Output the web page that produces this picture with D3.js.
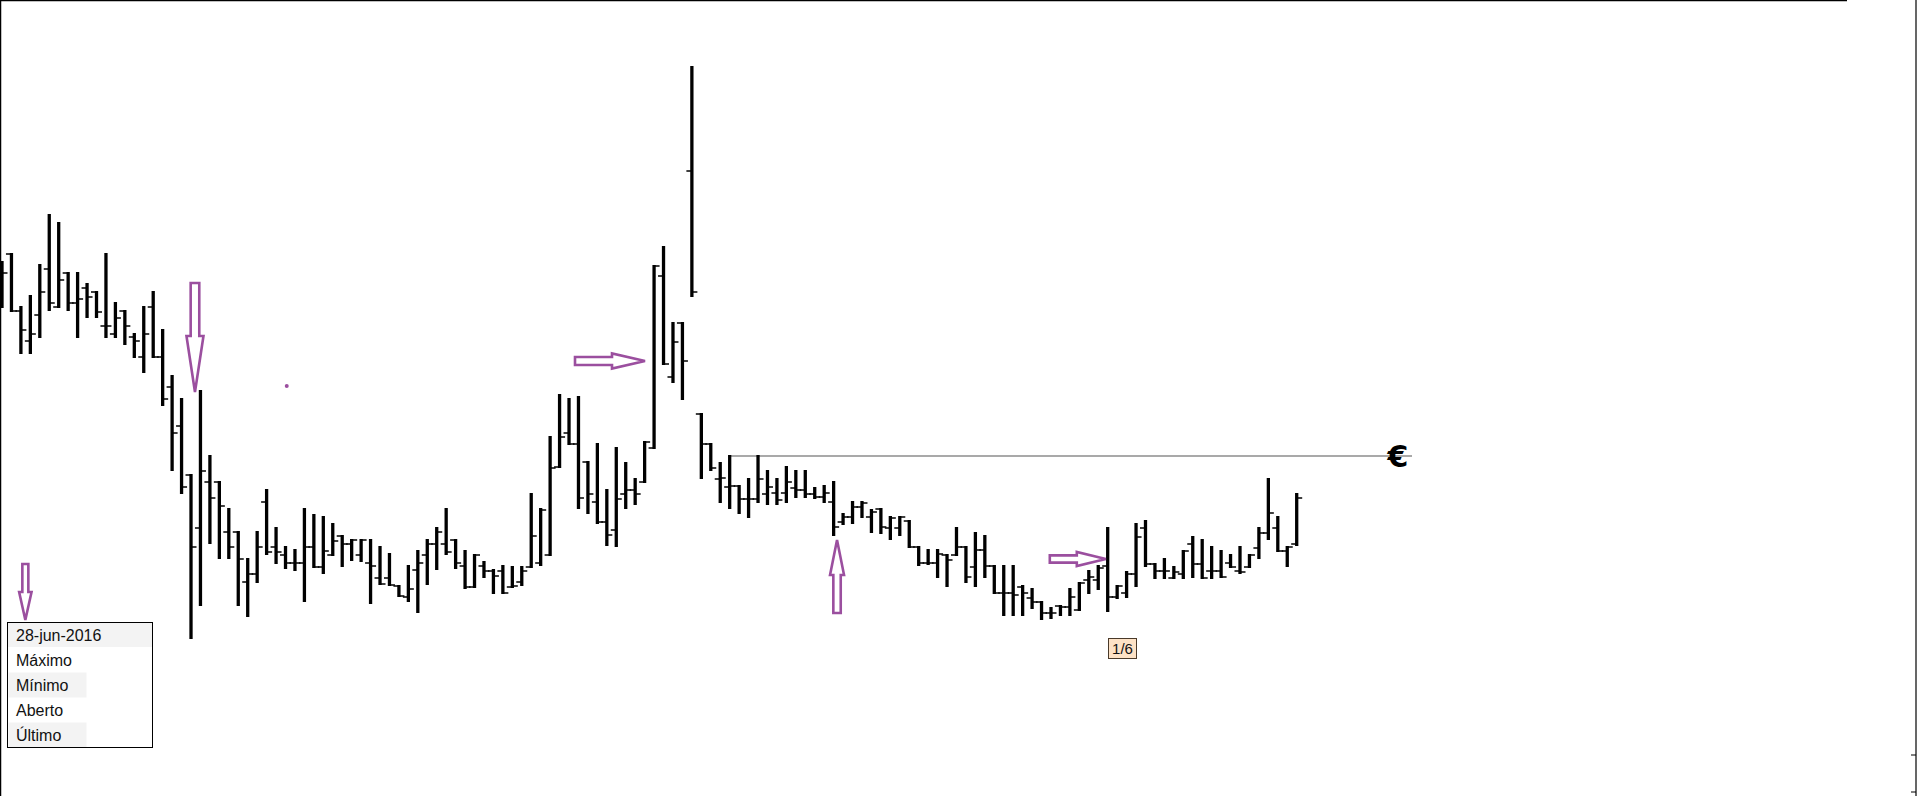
<!DOCTYPE html>
<html>
<head>
<meta charset="utf-8">
<script src="https://cdn.jsdelivr.net/npm/d3@7"></script>
<style>
  html, body { margin: 0; padding: 0; background: #fff; }
  svg { display: block; }
</style>
</head>
<body>
<div class="chart"></div>
<script>
// daily bars (prices in EUR)
var opens = [5.10,5.46,4.89,4.59,4.85,5.31,4.93,5.27,4.97,5.12,5.08,4.74,4.66,4.89,4.63,4.43,4.93,4.43,4.13,3.74,
  3.25,2.72,3.18,3.18,2.68,2.68,2.18,2.26,2.98,2.53,2.45,2.37,2.37,2.53,2.33,2.45,2.64,2.56,2.45,2.37,
  2.22,2.22,2.14,2.03,2.30,2.45,2.56,2.56,2.60,2.34,2.13,2.34,2.29,2.29,2.13,2.18,2.33,2.37,2.45,3.33,
  3.67,3.56,3.38,2.98,2.78,2.70,3.06,3.10,3.18,3.52,5.24,4.23,4.77,6.29,3.86,3.56,3.21,3.13,3.14,3.01,
  3.01,3.06,3.07,3.07,3.12,3.10,3.06,3.03,2.98,2.78,2.83,2.93,2.83,2.91,2.72,2.72,2.79,2.53,2.37,2.37,
  2.45,2.45,2.53,2.33,2.50,2.34,2.07,2.07,2.13,2.02,1.98,1.87,1.94,1.93,1.90,2.20,2.20,2.34,2.03,2.07,
  2.26,2.72,2.36,2.29,2.22,2.26,2.56,2.36,2.29,2.29,2.37,2.29,2.33,2.52,2.67,2.72,2.49,2.56];
var highs = [5.38,5.46,4.93,5.04,5.35,5.85,5.77,5.27,5.27,5.16,5.08,5.46,4.97,4.89,4.66,4.93,5.08,4.70,4.24,4.01,
  3.25,4.09,3.44,3.18,2.91,2.68,2.41,2.68,3.10,2.72,2.53,2.50,2.91,2.85,2.83,2.76,2.64,2.60,2.60,2.60,
  2.53,2.46,2.14,2.34,2.49,2.60,2.72,2.91,2.60,2.49,2.45,2.38,2.30,2.34,2.33,2.33,3.06,2.91,3.63,4.05,
  4.01,4.03,3.38,3.56,3.10,3.52,3.37,3.21,3.58,5.34,5.53,4.77,4.77,7.33,3.86,3.56,3.37,3.44,3.14,3.21,
  3.44,3.29,3.21,3.33,3.29,3.29,3.12,3.14,3.18,2.86,2.98,2.98,2.90,2.91,2.83,2.83,2.79,2.53,2.50,2.50,
  2.45,2.72,2.53,2.67,2.64,2.34,2.34,2.34,2.14,2.11,1.98,1.92,1.94,2.11,2.17,2.29,2.34,2.72,2.14,2.28,
  2.76,2.79,2.36,2.41,2.33,2.49,2.63,2.60,2.53,2.49,2.45,2.53,2.45,2.72,3.21,2.83,2.53,3.06];
var lows = [4.93,4.89,4.47,4.47,4.63,4.90,4.93,4.90,4.63,4.83,4.83,4.63,4.63,4.56,4.43,4.28,4.43,3.95,3.30,3.07,
  1.62,1.95,2.57,2.42,2.42,1.95,1.84,2.18,2.46,2.37,2.32,2.30,1.99,2.33,2.27,2.45,2.34,2.40,2.39,1.97,
  2.16,2.15,2.04,1.99,1.88,2.16,2.31,2.46,2.32,2.12,2.13,2.23,2.07,2.07,2.13,2.15,2.33,2.35,2.45,3.33,
  3.56,2.92,2.87,2.77,2.55,2.54,2.92,2.96,3.18,3.52,4.36,4.18,4.01,5.04,3.22,3.30,2.98,2.92,2.87,2.83,
  2.98,2.96,2.96,2.98,3.03,3.03,3.02,2.98,2.65,2.76,2.77,2.83,2.68,2.67,2.61,2.65,2.53,2.35,2.36,2.23,
  2.14,2.45,2.18,2.14,2.23,2.07,1.85,1.85,1.85,1.92,1.81,1.82,1.85,1.85,1.90,2.07,2.11,1.89,2.02,2.03,
  2.14,2.34,2.22,2.22,2.22,2.22,2.23,2.22,2.22,2.23,2.33,2.27,2.33,2.42,2.61,2.49,2.34,2.55];
var closes = [5.27,4.89,4.70,4.66,5.08,4.97,5.20,4.97,5.01,5.03,4.88,4.74,4.82,4.74,4.59,4.66,4.43,4.01,3.67,3.13,
  2.53,3.29,3.02,2.94,2.53,2.41,2.26,2.53,2.48,2.48,2.37,2.37,2.53,2.33,2.49,2.59,2.56,2.60,2.60,2.34,
  2.16,2.15,2.04,2.11,2.37,2.56,2.68,2.48,2.37,2.13,2.45,2.29,2.24,2.07,2.14,2.29,2.64,2.90,3.32,3.63,
  3.56,3.02,3.06,2.78,2.65,3.01,3.10,3.06,3.58,5.34,4.36,4.58,4.39,5.08,3.56,3.32,3.22,3.14,3.01,3.01,
  3.21,3.13,3.00,3.18,3.10,3.06,3.03,3.07,2.73,2.83,2.93,2.97,2.88,2.73,2.82,2.83,2.53,2.37,2.37,2.46,
  2.40,2.53,2.23,2.50,2.34,2.07,2.07,2.05,2.07,1.98,1.87,1.87,1.93,2.03,2.17,2.23,2.32,2.03,2.14,2.26,
  2.63,2.36,2.29,2.29,2.28,2.49,2.36,2.22,2.29,2.23,2.33,2.28,2.45,2.67,2.87,2.49,2.53,3.02];

// data window tooltip
var infoDate = '28-jun-2016';
var infoLabels = ['Máximo', 'Mínimo', 'Aberto', 'Último'];

// reference price line (index range + price) and its label
var refLine = { from: 77, to: 149.2, price: 3.44 };
var pageLabel = '1/6';

// hand-drawn arrows: tip in bar index / price, direction
var arrows = [
  { dir: 'down',  i: 20.42, p: 4.08, len: 109, head: 56, hw: 17, sw: 8.6 },
  { dir: 'right', i: 68.04, p: 4.39, len: 70,  head: 33, hw: 15, sw: 8 },
  { dir: 'up',    i: 88.36, p: 2.60, len: 73,  head: 35, hw: 14, sw: 7.4 },
  { dir: 'right', i: 116.8, p: 2.41, len: 56,  head: 29, hw: 14, sw: 7.3 },
  { dir: 'down',  i: 2.47,  p: 1.80, len: 56,  head: 28, hw: 12.4, sw: 6 }
];
var dots = [{ i: 30.13, p: 4.14 }];

var W = 1918, H = 796;
var bars = opens.map(function (o, k) {
  return { i: k, o: o, h: highs[k], l: lows[k], c: closes[k] };
});

var svg = d3.select('.chart')
  .append('svg')
    .attr('width', W)
    .attr('height', H);

var x = d3.scaleLinear()
  .domain([0, bars.length - 1])
  .range([2, 1296.7]);

var y = d3.scaleLinear()
  .domain([0, 8])
  .range([800, 0]);

// frame
svg.append('line').attr('x1', 0).attr('x2', 1847).attr('y1', 0.5).attr('y2', 0.5)
  .attr('stroke', '#000').attr('stroke-width', 1.5);
svg.append('line').attr('x1', 0.5).attr('x2', 0.5).attr('y1', 0).attr('y2', H)
  .attr('stroke', '#000').attr('stroke-width', 1.5);
svg.append('line').attr('x1', 1916).attr('x2', 1916).attr('y1', 0).attr('y2', H)
  .attr('stroke', '#000').attr('stroke-width', 1.2);
[755, 792].forEach(function (ty) {
  svg.append('line').attr('x1', 1911).attr('x2', 1916).attr('y1', ty).attr('y2', ty)
    .attr('stroke', '#000').attr('stroke-width', 1);
});

// reference line
svg.append('line')
  .attr('x1', x(refLine.from))
  .attr('x2', x(refLine.to))
  .attr('y1', y(refLine.price))
  .attr('y2', y(refLine.price))
  .attr('stroke', '#8c8c8c')
  .attr('stroke-width', 1.3);

svg.append('text')
  .attr('x', x(refLine.to) - 14)
  .attr('y', y(refLine.price) + 11)
  .style('text-anchor', 'middle')
  .attr('font-family', 'DejaVu Sans, sans-serif')
  .attr('font-weight', 'bold')
  .attr('font-size', '30px')
  .attr('fill', '#000')
  .text('€');

// OHLC bars
var g = svg.append('g').attr('class', 'bars');
var bar = g.selectAll('g').data(bars).enter().append('g');

bar.append('line')
  .attr('x1', function (d) { return x(d.i); })
  .attr('x2', function (d) { return x(d.i); })
  .attr('y1', function (d) { return y(d.h) - 1; })
  .attr('y2', function (d) { return y(d.l) + 1; })
  .attr('stroke', '#000')
  .attr('stroke-width', 3.3);

bar.append('line')
  .attr('x1', function (d) { return x(d.i) - 5.5; })
  .attr('x2', function (d) { return x(d.i); })
  .attr('y1', function (d) { return y(d.o); })
  .attr('y2', function (d) { return y(d.o); })
  .attr('stroke', '#000')
  .attr('stroke-width', 1.5);

bar.append('line')
  .attr('x1', function (d) { return x(d.i); })
  .attr('x2', function (d) { return x(d.i) + 5.5; })
  .attr('y1', function (d) { return y(d.c); })
  .attr('y2', function (d) { return y(d.c); })
  .attr('stroke', '#000')
  .attr('stroke-width', 1.5);

// arrows
function arrowPoints(a) {
  var tx = x(a.i), ty = y(a.p);
  var s = a.sw / 2, h = a.hw / 2, L = a.len, hd = a.head;
  // build pointing right (tip at origin), then rotate
  var pts = [[0, 0], [-hd, -h], [-hd, -s], [-L, -s], [-L, s], [-hd, s], [-hd, h]];
  var ang = { right: 0, down: Math.PI / 2, up: -Math.PI / 2, left: Math.PI }[a.dir];
  return pts.map(function (p) {
    var px = p[0] * Math.cos(ang) - p[1] * Math.sin(ang);
    var py = p[0] * Math.sin(ang) + p[1] * Math.cos(ang);
    return [tx + px, ty + py].join(',');
  }).join(' ');
}

svg.selectAll('polygon.arrow').data(arrows).enter().append('polygon')
  .attr('class', 'arrow')
  .attr('points', arrowPoints)
  .attr('fill', '#fff')
  .attr('stroke', '#9b4f9f')
  .attr('stroke-width', 2.6)
  .attr('stroke-linejoin', 'miter');

svg.selectAll('circle.dot').data(dots).enter().append('circle')
  .attr('class', 'dot')
  .attr('cx', function (d) { return x(d.i); })
  .attr('cy', function (d) { return y(d.p); })
  .attr('r', 2)
  .attr('fill', '#9b4f9f');

// page label
var pg = svg.append('g').attr('transform', 'translate(1108.5, 638.5)');
pg.append('rect').attr('width', 28).attr('height', 20)
  .attr('fill', '#fde2c6').attr('stroke', '#4a3a2a').attr('stroke-width', 1);
pg.append('text').attr('x', 14).attr('y', 15.5)
  .style('text-anchor', 'middle')
  .attr('font-family', 'Liberation Sans, Arial, sans-serif')
  .attr('font-size', '15px')
  .attr('fill', '#111')
  .text(pageLabel);

// info box
var info = svg.append('g').attr('transform', 'translate(7.5, 622.5)');
var rows = [infoDate].concat(infoLabels);
info.append('rect').attr('x', 0.5).attr('y', 0.5).attr('width', 144).attr('height', 24)
  .attr('fill', '#f3f3f3');
[2, 4].forEach(function (r) {
  info.append('rect').attr('x', 1).attr('y', r * 25).attr('width', 78).attr('height', 25)
    .attr('fill', '#f3f3f3');
});
info.selectAll('text').data(rows).enter().append('text')
  .attr('x', 8.5)
  .attr('y', function (d, k) { return 18.5 + k * 25; })
  .attr('font-family', 'Liberation Sans, Arial, sans-serif')
  .attr('font-size', '16px')
  .attr('fill', '#111')
  .text(function (d) { return d; });
info.append('rect').attr('width', 145).attr('height', 125)
  .attr('fill', 'none').attr('stroke', '#000').attr('stroke-width', 1);
</script>
</body>
</html>
